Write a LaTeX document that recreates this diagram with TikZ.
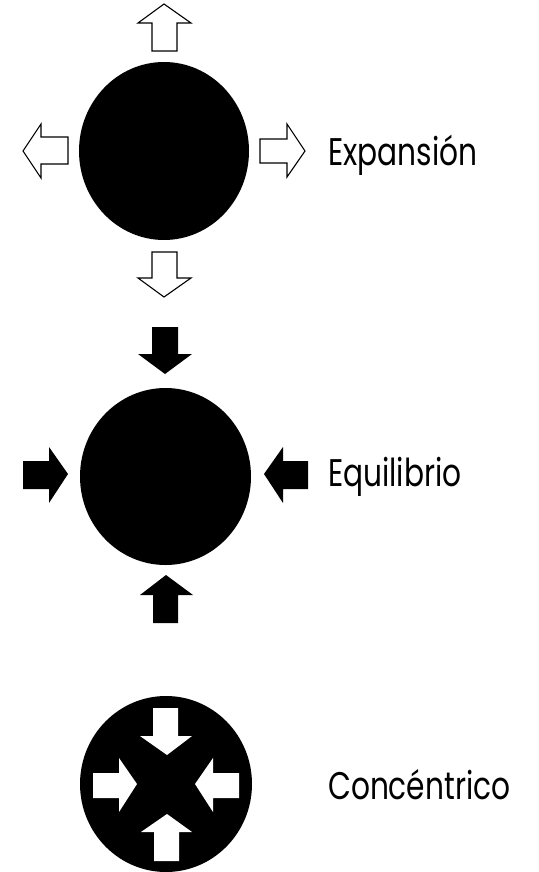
\documentclass[tikz,border=0pt]{standalone}
\usepackage{fontspec}
\setmainfont{Poppins}

\tikzset{
  hueca/.style={draw=black, fill=white, line width=1.1pt, line join=miter},
  llena/.style={fill=black},
  blanca/.style={fill=white},
  rotulo/.style={anchor=base west, inner sep=0pt, font=\fontsize{38.5}{40}\selectfont, xscale=0.77, transform shape}
}

\begin{document}
\begin{tikzpicture}[x=1pt, y=-1pt]
\useasboundingbox (0,0) rectangle (538,872);

% Expansion: black sphere, hollow arrows pointing out
\fill[black] (164,151) ellipse [x radius=85, y radius=89];
\draw[hueca] (152,51) -- (152,23) -- (138,23) -- (164,4) -- (191,23) -- (177,23) -- (177,51) -- cycle;
\draw[hueca] (152,252) -- (177,252) -- (177,278) -- (191,278) -- (164,297) -- (138,278) -- (152,278) -- cycle;
\draw[hueca] (68,137) -- (41,137) -- (41,124) -- (23,151) -- (41,178) -- (41,164) -- (68,164) -- cycle;
\draw[hueca] (260,139) -- (287,139) -- (287,124) -- (305,151) -- (287,177) -- (287,163) -- (260,163) -- cycle;
\node[rotulo] (expansion) at (328,165) {Expansión};

% Equilibrium: black arrows pointing in
\fill[black] (165.5,476.5) ellipse [x radius=85.5, y radius=88.5];
\fill[llena] (152,327) -- (178,327) -- (178,354) -- (192,354) -- (165,374) -- (138,354) -- (152,354) -- cycle;
\fill[llena] (153,623) -- (153,595) -- (140,595) -- (166,575) -- (193,595) -- (178,595) -- (178,623) -- cycle;
\fill[llena] (23,461) -- (49,461) -- (49,447) -- (68,474) -- (49,503) -- (49,489) -- (23,489) -- cycle;
\fill[llena] (308,461) -- (283,461) -- (283,447) -- (264,474) -- (283,503) -- (283,489) -- (308,489) -- cycle;
\node[rotulo] (equilibrio) at (328,486) {Equilibrio};

% Concentric: white arrows inside the sphere
\fill[black] (166,784) ellipse [x radius=86, y radius=88];
\fill[blanca] (153,708) -- (178,708) -- (178,736) -- (192,736) -- (167,755) -- (140,736) -- (153,736) -- cycle;
\fill[blanca] (154,861) -- (154,832) -- (141,832) -- (167,814) -- (192,832) -- (179,832) -- (179,861) -- cycle;
\fill[blanca] (93,773) -- (119,773) -- (119,758) -- (137,784) -- (119,812) -- (119,798) -- (93,798) -- cycle;
\fill[blanca] (239,773) -- (213,773) -- (213,758) -- (195,784) -- (213,812) -- (213,798) -- (239,798) -- cycle;
\node[rotulo] (concentrico) at (328,799) {Concéntrico};
\end{tikzpicture}
\end{document}
